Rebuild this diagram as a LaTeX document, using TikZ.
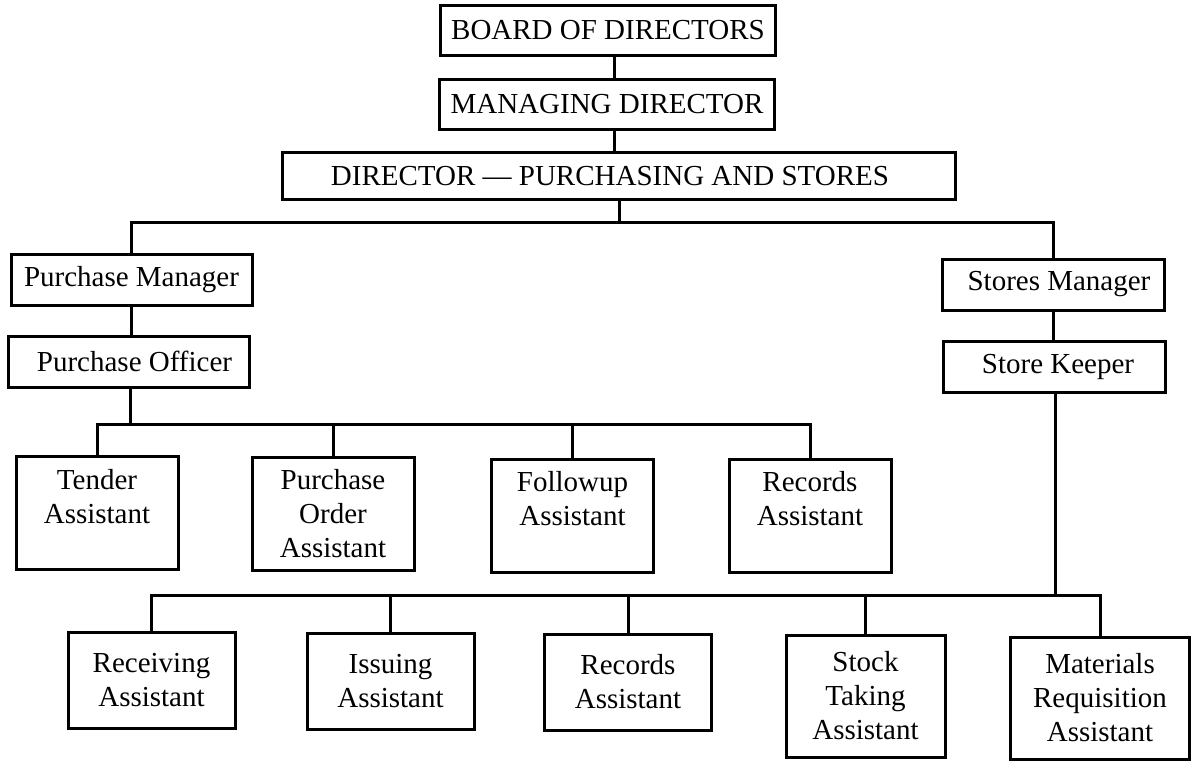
\documentclass[tikz,border=0pt]{standalone}
\usepackage{fontspec}
\setmainfont{Liberation Serif}
\usetikzlibrary{positioning}

\begin{document}
\begin{tikzpicture}[
  x=0.5pt, y=-0.5pt,
  post/.style={
    rectangle,
    draw=black,
    line width=1.5pt,
    inner sep=2pt,
    font=\fontsize{14.5}{17}\selectfont
  },
  topbox/.style={post, minimum width=167.5pt, minimum height=25pt},
  dirbox/.style={post, minimum width=336.5pt, minimum height=23.5pt},
  mgrbox/.style={post, minimum height=25.5pt},
  asst/.style={post, align=center, minimum width=81pt, minimum height=56.5pt},
  lowasst/.style={post, align=center, minimum width=83.5pt, minimum height=48pt},
  link/.style={line width=1.5pt}
]
\useasboundingbox (0,0) rectangle (1200,768);

% top of the chart
\node[topbox] (board) at (608,30) {BOARD OF DIRECTORS};
\node[topbox] (md) at (607,104) {MANAGING DIRECTOR};
\node[dirbox] (dir) at (619,176) {DIRECTOR --- PURCHASING AND STORES\kern9pt};

% purchase side
\node[mgrbox, minimum width=120.5pt] (pm) at (131.5,280) {Purchase Manager};
\node[mgrbox, minimum width=120.5pt] (po) at (128.5,361.5) {\kern6pt Purchase Officer};
\node[asst] (tender) at (97,513) {Tender\\Assistant\\~};
\node[asst] (poa) at (333,514) {Purchase\\Order\\Assistant};
\node[asst] (follow) at (572.5,515.5) {Followup\\Assistant\\~};
\node[asst] (precords) at (810,515.5) {Records\\Assistant\\~};

% stores side
\node[mgrbox, minimum width=111pt] (sm) at (1053,284.5) {\kern6pt Stores Manager};
\node[mgrbox, minimum width=111pt] (sk) at (1054,366.5) {\kern4pt Store Keeper};
\node[lowasst] (receive) at (151.5,680) {Receiving\\Assistant};
\node[lowasst] (issue) at (390.5,681) {Issuing\\Assistant};
\node[lowasst] (srecords) at (628,682) {Records\\Assistant};
\node[lowasst, minimum width=79.5pt, minimum height=61pt] (stock) at (865.5,696) {Stock\\Taking\\Assistant};
\node[lowasst, minimum width=89.5pt, minimum height=61pt] (materials) at (1100,698) {Materials\\Requisition\\Assistant};

% connectors
\coordinate (spine) at (614,0);
\coordinate (topbus) at (619,222);
\coordinate (pbus) at (130,424);
\coordinate (sbus) at (1055,595);

\draw[link] (board.south -| spine) -- (md.north -| spine);
\draw[link] (md.south -| spine) -- (dir.north -| spine);
\draw[link] (dir.south) -- (topbus);
\draw[link] (pm.north) |- (topbus) -| (sm.north);

\draw[link] (pm.south) -- (pm.south |- po.north);
\draw[link] (po.south -| pbus) -- (pbus);
\foreach \n in {tender,poa,follow,precords}
  \draw[link] (pbus) -| (\n.north);

\draw[link] (sm.south) -- (sm.south |- sk.north);
\draw[link] (sk.south -| sbus) -- (sbus);
\foreach \n in {receive,issue,srecords,stock,materials}
  \draw[link] (sbus) -| (\n.north);
\end{tikzpicture}
\end{document}
